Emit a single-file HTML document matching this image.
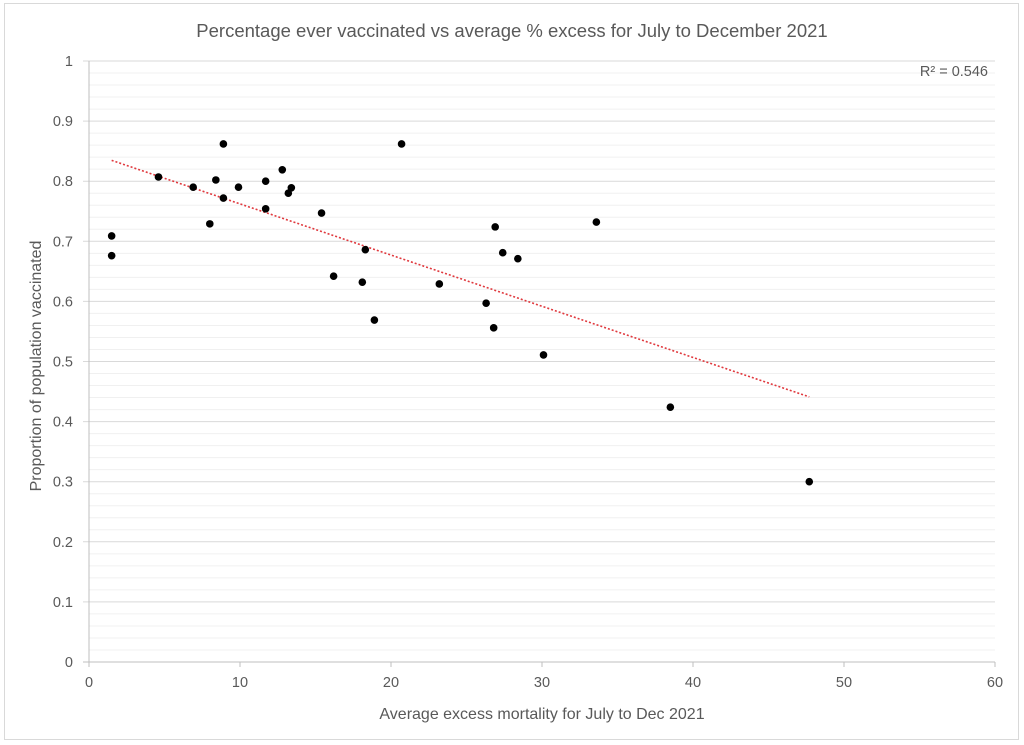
<!DOCTYPE html>
<html><head><meta charset="utf-8"><style>
html,body{margin:0;padding:0;background:#fff;}
svg{display:block;font-family:"Liberation Sans",sans-serif;}
</style></head><body>
<svg id="chart" width="1024" height="745" viewBox="0 0 1024 745">
<rect x="4.5" y="3.5" width="1014" height="736" fill="#fff" stroke="#d9d9d9"/>
<text x="512" y="37" text-anchor="middle" font-size="18.5" fill="#595959">Percentage ever vaccinated vs average % excess for July to December 2021</text>
<g id="grid"></g><g id="axes"></g><g id="trend"></g><g id="points"></g>
<text x="988" y="76" text-anchor="end" font-size="14.5" fill="#595959">R² = 0.546</text>
<text x="542" y="719" text-anchor="middle" font-size="16" fill="#595959">Average excess mortality for July to Dec 2021</text>
<text transform="translate(41,366) rotate(-90)" text-anchor="middle" font-size="16" fill="#595959">Proportion of population vaccinated</text>
</svg>
<script>
const xValues=[1.5,1.5,4.6,6.9,8.4,8.9,8.9,8.0,9.9,11.7,11.7,12.8,13.2,13.4,15.4,16.2,18.3,18.1,18.9,20.7,23.2,26.3,26.9,26.8,27.4,28.4,30.1,33.6,38.5,47.7];
const yValues=[0.709,0.676,0.807,0.790,0.802,0.862,0.772,0.729,0.790,0.800,0.754,0.819,0.780,0.789,0.747,0.642,0.686,0.632,0.569,0.862,0.629,0.597,0.724,0.556,0.681,0.671,0.511,0.732,0.424,0.300];
const xTicks=[0,10,20,30,40,50,60];
const yTicks=[0,0.1,0.2,0.3,0.4,0.5,0.6,0.7,0.8,0.9,1];
const NS="http://www.w3.org/2000/svg";
const X0=89,X1=995,Y0=662,Y1=61;
const sx=v=>X0+(v-0)/(60-0)*(X1-X0);
const sy=v=>Y0-(v-0)/(1-0)*(Y0-Y1);
function mk(tag,attrs,parent){const e=document.createElementNS(NS,tag);for(const k in attrs)e.setAttribute(k,attrs[k]);document.getElementById(parent).appendChild(e);return e;}
for(let i=1;i<50;i++){if(i%5===0)continue;const l=mk('line',{x1:X0,x2:X1,y1:sy(i*0.02),y2:sy(i*0.02),stroke:'#f0f0f0','stroke-width':1},'grid');

}
yTicks.forEach(t=>{const l=mk('line',{x1:X0-6,x2:X1,y1:sy(t),y2:sy(t),stroke:t===0?'#bfbfbf':'#d9d9d9','stroke-width':1},'grid');


const tx=mk('text',{x:X0-16,y:sy(t)+5,'text-anchor':'end','font-size':14.5,fill:'#595959'},'axes');tx.textContent=String(t);

});
const ya=mk('line',{x1:X0,x2:X0,y1:Y1,y2:Y0,stroke:'#bfbfbf'},'axes');


xTicks.forEach(t=>{const l=mk('line',{x1:sx(t),x2:sx(t),y1:Y0,y2:Y0+5,stroke:'#bfbfbf'},'axes');


const tx=mk('text',{x:sx(t),y:Y0+25,'text-anchor':'middle','font-size':14.5,fill:'#595959'},'axes');tx.textContent=String(t);

});
const n=xValues.length;let mx=0,my=0;for(let i=0;i<n;i++){mx+=xValues[i];my+=yValues[i];}mx/=n;my/=n;
let sxy=0,sxx=0;for(let i=0;i<n;i++){sxy+=(xValues[i]-mx)*(yValues[i]-my);sxx+=(xValues[i]-mx)**2;}
const b=sxy/sxx,a=my-b*mx;const xmin=Math.min(...xValues),xmax=Math.max(...xValues);
const tl=mk('line',{x1:sx(xmin),y1:sy(a+b*xmin),x2:sx(xmax),y2:sy(a+b*xmax),stroke:'#e0393e','stroke-width':1.6,'stroke-dasharray':'2,2'},'trend');


for(let i=0;i<n;i++){const c=mk('circle',{cx:sx(xValues[i]),cy:sy(yValues[i]),r:3.8,fill:'#000'},'points');

}
</script>
</body></html>
